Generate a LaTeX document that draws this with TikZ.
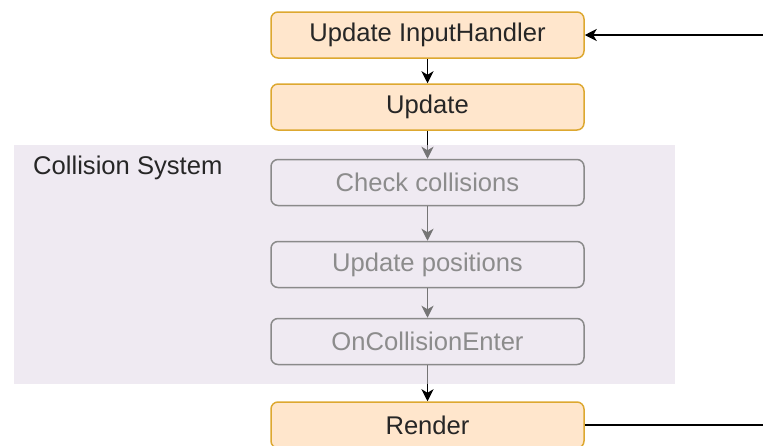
\documentclass[tikz,border=0pt]{standalone}
\usepackage{fontspec}
\setmainfont{Liberation Sans}
\usetikzlibrary{arrows.meta}
\definecolor{stepfill}{HTML}{FFE6CC}
\definecolor{stepline}{HTML}{DDA830}
\definecolor{groupfill}{HTML}{EFEAF2}
\definecolor{mutedline}{HTML}{8A8A8A}
\definecolor{mutedtext}{HTML}{8C8C8C}
\definecolor{arrowgray}{HTML}{757575}
\definecolor{inktext}{HTML}{262626}
\tikzset{
  every node/.style={font=\fontsize{25.6}{30}\selectfont},
  stepbox/.style={draw=stepline, fill=stepfill, line width=1.5pt, rounded corners=7pt,
    minimum width=313pt, minimum height=46pt, text=inktext, inner sep=0pt},
  mutedbox/.style={draw=mutedline, line width=1.5pt, rounded corners=7pt,
    minimum width=313pt, minimum height=46pt, text=mutedtext, inner sep=0pt},
  flow/.style={line width=1.5pt, -{Stealth[length=12pt, width=12pt, inset=3.5pt]}},
  mutedflow/.style={flow, draw=arrowgray, color=arrowgray},
  plain/.style={line width=1.5pt}
}
\begin{document}
\begin{tikzpicture}[x=1pt, y=-1pt]
  \useasboundingbox (0,0) rectangle (763,445);

  % collision system group
  \fill[groupfill] (14,145) rectangle (675,384);
  \node[anchor=west, text=inktext, inner sep=0pt] (grouplabel) at (33,168) {Collision System};

  % steps of the frame loop
  \node[stepbox] (input) at (427.5,35) {Update InputHandler};
  \node[stepbox] (update) at (427.5,107) {Update};
  \node[mutedbox] (check) at (427.5,182.5) {Check collisions};
  \node[mutedbox] (positions) at (427.5,264.5) {Update positions};
  \node[mutedbox] (enter) at (427.5,341.5) {OnCollisionEnter};
  \node[stepbox] (render) at (427.5,425) {Render};

  % group edges where the connectors cross
  \coordinate (grouptop) at (427.5,145);
  \coordinate (groupbottom) at (427.5,384);
  \coordinate (loopin) at (763,35);
  \coordinate (loopout) at (763,425);

  % connectors
  \draw[flow] (input) -- (update);
  \draw[mutedflow] (update) -- (check);
  \draw[plain] (update.south) -- (grouptop);
  \draw[mutedflow] (check) -- (positions);
  \draw[mutedflow] (positions) -- (enter);
  \draw[flow] (enter) -- (render);
  \draw[plain, arrowgray] (enter.south) -- (groupbottom);

  % loop back from render to input
  \draw[plain] (render.east) -- (loopout);
  \draw[flow] (loopin) -- (input.east);
\end{tikzpicture}
\end{document}
